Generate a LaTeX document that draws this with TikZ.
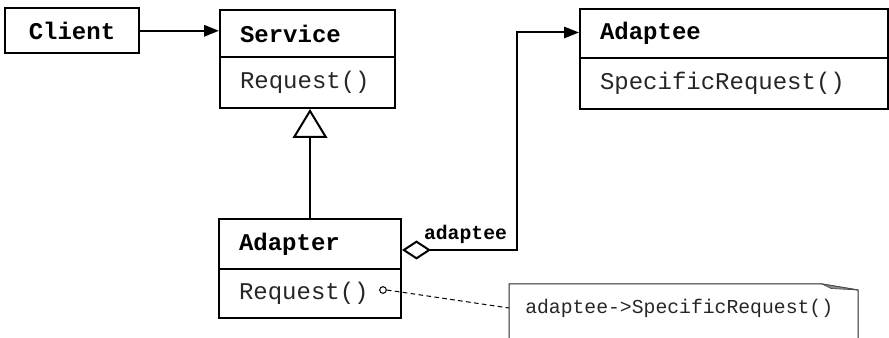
\documentclass[tikz,border=0pt]{standalone}
\usepackage{fontspec}
\setmonofont{Liberation Mono}
\usetikzlibrary{arrows.meta}
\begin{document}
\begin{tikzpicture}[x=0.75pt,y=-0.75pt,
  cls/.style={draw=black,line width=1.5pt,rectangle,anchor=north west,inner xsep=15pt,inner ysep=0pt,align=left,font=\fontsize{18}{20}\selectfont\ttfamily},
  clsname/.style={cls,font=\fontsize{18}{20}\selectfont\ttfamily\bfseries},
  conn/.style={line width=1.5pt,draw=black},
  filledtip/.style={-{Triangle[length=11.25pt,width=8.5pt]}},
  notetxt/.style={font=\fontsize{14.8}{16}\selectfont\ttfamily,text=black!85,anchor=west,inner xsep=0pt}
]
\useasboundingbox (0,0) rectangle (889,338);
\clip (0,0) rectangle (889,338);

% Client
\node[draw=black,line width=1.5pt,minimum width=100.5pt,minimum height=33.75pt,inner sep=0pt,font=\fontsize{18}{20}\selectfont\ttfamily\bfseries] (client) at (72,30.8) {Client};

% Service
\node[clsname,minimum width=131.25pt,minimum height=35.25pt,text width=101.25pt] (svcT) at (219,9) {Service};
\node[cls,minimum width=131.25pt,minimum height=38.25pt,text width=101.25pt,text=black!85] (svcB) at (219,56) {Request()};

% Adaptee
\node[clsname,minimum width=231pt,minimum height=36.75pt,text width=201pt] (aeT) at (579,8) {Adaptee};
\node[cls,minimum width=231pt,minimum height=38.25pt,text width=201pt,text=black!85] (aeB) at (579,57) {SpecificRequest()};

% Adapter
\node[clsname,minimum width=136.5pt,minimum height=37.5pt,text width=106.5pt] (adT) at (218,218) {Adapter};
\node[cls,minimum width=136.5pt,minimum height=36.75pt,text width=106.5pt,text=black!85] (adB) at (218,268) {Request()};

% Client -> Service
\draw[conn,filledtip] (client.east) -- (client.east -| svcT.west);

% Inheritance
\draw[conn,-{Triangle[open,length=21.75pt,width=26pt]}] (adT.north) -- (adT.north |- svcB.south);

% Aggregation Adapter -> Adaptee
\coordinate (bend) at (517,32.5);
\coordinate (aggstart) at ([yshift=-4.5pt]adT.east);
\draw[conn,{Diamond[open,length=21.75pt,width=14.25pt]}-{Triangle[length=11.25pt,width=8.5pt]}] (aggstart) -| (bend) -- (bend -| aeT.west);
\node[font=\fontsize{14.8}{16}\selectfont\ttfamily\bfseries,inner sep=0pt] (agglabel) at (465.5,234) {adaptee};

% Note
\node[circle,draw=black,line width=0.75pt,minimum size=5pt,inner sep=0pt] (circ) at (383,290) {};
\node[notetxt] (note) at (525,308) {adaptee->SpecificRequest()};
\coordinate (noteL) at (509,308);
\draw[line width=0.75pt,black!85] (509,345) -- (509,284) -- (822,284) -- (858,290) -- (858,345);
\fill[black!45,draw=black!70,line width=0.5pt] (822,284) -- (858,290) -- (831,288.5) -- cycle;
\draw[line width=0.75pt,dash pattern=on 3.5pt off 2.5pt] (circ.east) -- (noteL);
\end{tikzpicture}
\end{document}
